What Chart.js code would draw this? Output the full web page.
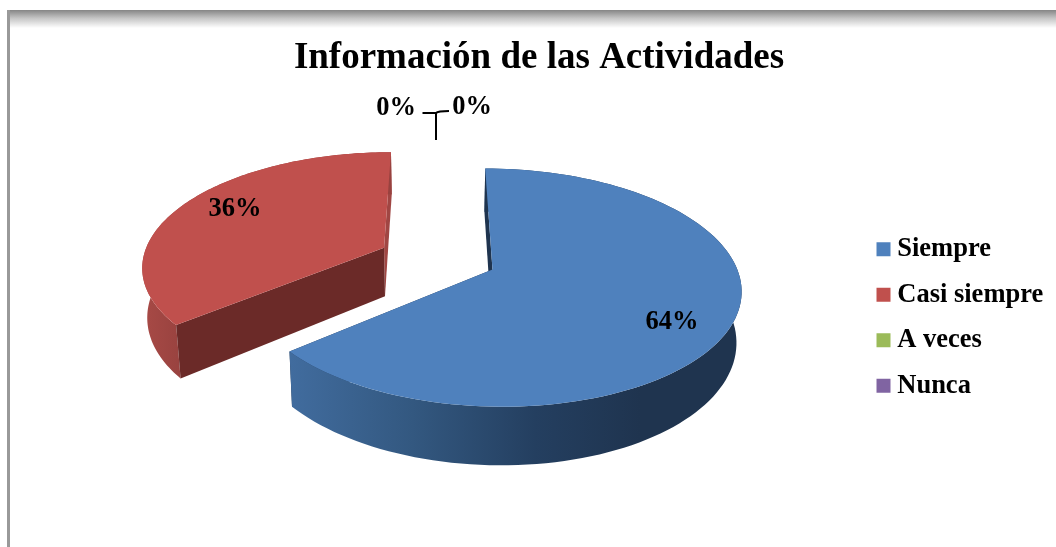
<!DOCTYPE html>
<html>
<head>
<meta charset="utf-8">
<style>html,body{margin:0;padding:0;background:#fff}canvas{display:block}</style>
<script src="https://cdn.jsdelivr.net/npm/chart.js@4/dist/chart.umd.min.js"></script>
</head>
<body>
<canvas id="c" width="1056" height="547"></canvas>
<script>
const categories = ['Siempre', 'Casi siempre', 'A veces', 'Nunca'];
const percentValues = [64, 36, 0, 0];
const sliceColors = ['#4F81BD', '#C0504D', '#9BBB59', '#8064A2'];
const chartTitle = 'Información de las Actividades';

const FONT = '"Liberation Serif", "Times New Roman", serif';
const VIEW = {cx: 437.5, cy: 258.5, R: 248, H: 113, p: 0.15, depth: 49, shrink: 0.983, explodeX: 0.2415, explodeY: 0.225, rimX: 0.973};
const labelSpots = [[672, 322.5], [235, 209.5], [396, 108.5], [472, 107.5]];

function proj(u, v, low) {
  const s = 1 / (1 - VIEW.p * v);
  let x = VIEW.cx + VIEW.R * u * s;
  let y = VIEW.cy + VIEW.H * v * s;
  if (low) {
    x = VIEW.cx + (x - VIEW.cx) * VIEW.shrink;
    y += VIEW.depth * s;
  }
  return [x, y];
}
function poly(ctx, pts, fill) {
  ctx.beginPath();
  pts.forEach((p, i) => i ? ctx.lineTo(p[0], p[1]) : ctx.moveTo(p[0], p[1]));
  ctx.closePath();
  ctx.fillStyle = fill;
  ctx.fill();
}
function wallFill(ctx, i) {
  if (i === 0) {
    const g = ctx.createLinearGradient(290, 0, 640, 0);
    g.addColorStop(0, '#416C9E');
    g.addColorStop(0.35, '#335880');
    g.addColorStop(0.7, '#243F60');
    g.addColorStop(1, '#1F344F');
    return g;
  }
  const g = ctx.createLinearGradient(142, 0, 182, 0);
  g.addColorStop(0, '#A84A46');
  g.addColorStop(1, '#98423F');
  return g;
}
const pie3d = {
  id: 'pie3d',
  beforeDraw(chart) {
    const ctx = chart.ctx;
    ctx.save();
    const g = ctx.createLinearGradient(0, 10, 0, 28);
    g.addColorStop(0, '#858585');
    g.addColorStop(0.45, '#c4c4c4');
    g.addColorStop(1, '#ffffff');
    ctx.fillStyle = g;
    ctx.fillRect(7, 10, 1049, 18);
    ctx.fillStyle = '#999';
    ctx.fillRect(7, 10, 3, 537);
    ctx.restore();
  },
  afterLayout(chart) {
    chart.legend.left = 864;
    chart.legend.top = 217;
  },
  beforeDatasetDraw(chart) {
    const ctx = chart.ctx;
    const arcs = chart.getDatasetMeta(0).data;
    ctx.save();
    [1, 0].forEach(i => {
      const {startAngle: a0, endAngle: a1} = arcs[i].getProps(['startAngle', 'endAngle'], true);
      if (a1 - a0 <= 0) return;
      const mid = (a0 + a1) / 2;
      const ox = Math.cos(mid) * VIEW.explodeX, oy = Math.sin(mid) * VIEW.explodeY;
      const rim = low => {
        const pts = [];
        for (let k = 0; k <= 120; k++) {
          const a = a0 + (a1 - a0) * k / 120;
          pts.push(proj(ox + VIEW.rimX * Math.cos(a), oy + Math.sin(a), low));
        }
        return pts;
      };
      const top = rim(false), bottom = rim(true);
      const apex = proj(ox, oy, false), apexLow = proj(ox, oy, true);
      const startFill = i === 0 ? '#1F344F' : '#6B2A28';
      const endFill = i === 0 ? '#1F344F' : '#A04643';
      poly(ctx, [apex, top[120], bottom[120], apexLow], endFill);
      poly(ctx, top.concat(bottom.slice().reverse()), wallFill(ctx, i));
      poly(ctx, [apex, top[0], bottom[0], apexLow], startFill);
      poly(ctx, [apex].concat(top), sliceColors[i]);
    });
    ctx.restore();
    return false;
  },
  afterDatasetsDraw(chart) {
    const ctx = chart.ctx;
    ctx.save();
    ctx.font = 'bold 26.5px ' + FONT;
    ctx.fillStyle = '#000';
    ctx.textAlign = 'center';
    ctx.textBaseline = 'middle';
    percentValues.forEach((v, i) => ctx.fillText(v + '%', labelSpots[i][0], labelSpots[i][1]));
    ctx.strokeStyle = '#000';
    ctx.lineWidth = 2;
    ctx.beginPath();
    ctx.moveTo(422.5, 113);
    ctx.lineTo(436, 113);
    ctx.lineTo(436, 140);
    ctx.moveTo(436, 113);
    ctx.quadraticCurveTo(438, 111, 449, 111);
    ctx.stroke();
    ctx.restore();
  }
};
new Chart(document.getElementById('c'), {
  type: 'pie',
  data: {
    labels: categories,
    datasets: [{data: percentValues, backgroundColor: sliceColors, borderWidth: 0}]
  },
  options: {
    responsive: false,
    animation: false,
    layout: {padding: {left: 22}},
    plugins: {
      tooltip: {enabled: false},
      title: {
        display: true,
        text: chartTitle,
        color: '#000',
        font: {family: FONT, size: 37, weight: 'bold'},
        padding: {top: 36, bottom: 8}
      },
      legend: {
        position: 'right',
        align: 'start',
        labels: {
          color: '#000',
          font: {family: FONT, size: 26.5, weight: 'bold'},
          usePointStyle: true,
          pointStyle: 'rect',
          boxWidth: 1,
          boxHeight: 14,
          padding: 19
        }
      }
    }
  },
  plugins: [pie3d]
});
</script>
</body>
</html>
